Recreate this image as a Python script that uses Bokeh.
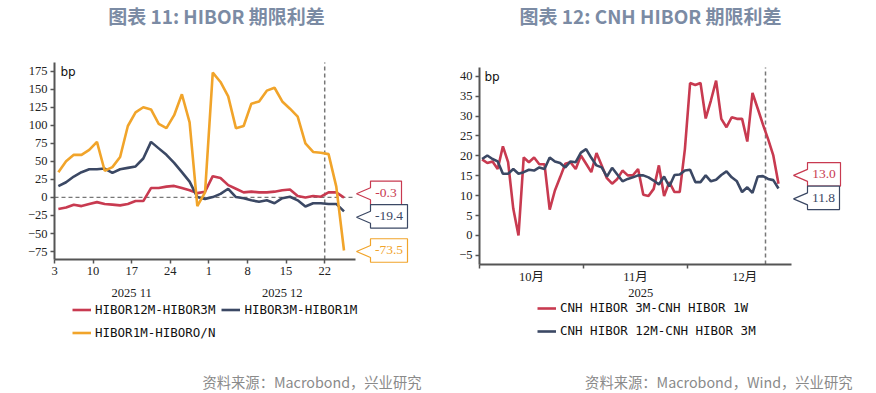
from bokeh.plotting import figure
from bokeh.models import FixedTicker, Legend, LegendItem, Range1d
from bokeh.layouts import row
from bokeh.embed import file_html
from bokeh.resources import INLINE
from bokeh.core.properties import value

# ---------------- data : left chart (HIBOR, business days 3 Nov - 24 Dec 2025)
left_title = "图表 11: HIBOR 期限利差"
left_source = "资料来源：Macrobond，兴业研究"
left_tick_labels = ["3", "10", "17", "24", "1", "8", "15", "22"]
left_month_labels = ["2025 11", "2025 12"]
hibor_12m_3m = [-16, -14, -10, -12, -9, -6.5, -9, -10, -11, -9, -5, -5, 13, 13, 15, 16,
                13, 10, 6, 8, 29.5, 27, 17, 12, 7, 8, 7, 7, 8, 10, 11, 2, 0, 2, 1, 7, 7, -0.3]
hibor_3m_1m = [15.7, 21, 29, 35, 39, 39, 40, 34, 39, 41, 43, 54, 77, 68, 59, 48, 35, 22,
               0.5, -2, 0.5, 5, 12, 0.5, -1, -4, -6, -4, -8, -1, 1, -4, -12.5, -8, -8, -9,
               -9, -19.4]
hibor_1m_on = [35, 50, 59, 59, 66, 77, 37, 42, 56, 99, 118, 125, 122, 102, 96, 114, 143,
               104, -12, 7, 173, 160, 140, 96, 99, 130, 133, 148, 152, 133, 123, 112, 75,
               63, 62, 60, 15, -73.5]
left_names = ["HIBOR12M-HIBOR3M", "HIBOR3M-HIBOR1M", "HIBOR1M-HIBORO/N"]

# ---------------- data : right chart (CNH HIBOR, business days Oct - 24 Dec 2025)
right_title = "图表 12: CNH HIBOR 期限利差"
right_source = "资料来源：Macrobond，Wind，兴业研究"
right_month_labels = ["10月", "11月", "12月"]
right_year_label = "2025"
cnh_3m_1w = [19.1, 18.2, 18.6, 16.7, 22.4, 18.4, 6.7, 0, 19.6, 18.4,
             19.6, 17.9, 17.9, 6.5, 11.3, 14.6, 18.0, 18.4, 16.7, 20.1,
             18.0, 15.9, 20.7, 17.6, 14.4, 13.0, 14.2, 16.3, 15.1, 15.1,
             16.7, 10.2, 9.9, 11.7, 17.6, 9.9, 13.4, 10.9, 10.9, 21.7,
             38.3, 37.8, 38.3, 29.4, 33.9, 38.9, 29.3, 27.2, 29.7, 29.3,
             29.3, 23.6, 35.8, 31.9, 27.9, 24.2, 20.1, 13.0]
cnh_12m_3m = [19.2, 20.1, 19.2, 18.6, 15.5, 15.5, 16.7, 15.5, 15.9, 16.5,
              16.3, 17.1, 16.7, 19.6, 18.6, 18.2, 17.1, 18.6, 18.4, 20.8,
              21.7, 19.5, 17.6, 17.1, 14.8, 17.0, 15.3, 13.6, 14.2, 14.6,
              15.1, 15.1, 14.6, 13.8, 12.8, 14.8, 12.3, 15.2, 15.3, 16.3,
              16.5, 13.4, 13.4, 15.1, 13.6, 14.0, 15.2, 16.1, 14.6, 13.6,
              10.9, 12.1, 10.7, 14.8, 14.9, 14.2, 13.9, 11.8]
right_names = ["CNH HIBOR 3M-CNH HIBOR 1W", "CNH HIBOR 12M-CNH HIBOR 3M"]

# ---------------- styles
RED = "#c83a50"
NAVY = "#3b4864"
ORANGE = "#f1a42a"
AXIS = "#555555"
DASH = "#777777"
TITLE_C = "#7b8ba4"
SRC_C = "#8a8a8a"
SERIF = "Liberation Serif, Noto Sans CJK SC"
MONO = "DejaVu Sans Mono"
CJK = "Noto Sans CJK SC"
W, H = 438, 393


class Geo:
    """pixel <-> data conversion for a figure whose frame fills the whole figure"""

    def __init__(self, fig_left, origin_x, ppx, origin_top, y_top, ppy):
        self.fig_left, self.origin_x, self.ppx = fig_left, origin_x, ppx
        self.origin_top, self.y_top, self.ppy = origin_top, y_top, ppy

    def x(self, page_x):
        return (page_x - self.origin_x) / self.ppx

    def y(self, page_y):
        return self.y_top - (page_y - self.origin_top) / self.ppy

    def page_y(self, v):
        return self.origin_top + (self.y_top - v) * self.ppy

    def x_range(self):
        return Range1d(self.x(self.fig_left), self.x(self.fig_left + W))

    def y_range(self):
        return Range1d(self.y(H), self.y(0))


def base_fig(g, x0, y0, y1):
    p = figure(width=W, height=H, x_range=g.x_range(), y_range=g.y_range(),
               output_backend="svg", toolbar_location=None,
               min_border_left=0, min_border_right=0,
               min_border_top=0, min_border_bottom=0)
    p.outline_line_color = None
    p.grid.visible = False
    for ax in p.xaxis + p.yaxis:
        ax.axis_line_color = AXIS
        ax.axis_line_width = 2
        ax.major_tick_line_color = AXIS
        ax.major_tick_line_width = 1.5
        ax.major_tick_out = 4
        ax.major_tick_in = 0
        ax.minor_tick_line_color = None
        ax.major_label_text_font = SERIF
        ax.major_label_text_font_size = "12.5px"
        ax.major_label_text_color = "#222222"
    p.yaxis.major_label_standoff = 3
    p.yaxis.fixed_location = x0
    p.yaxis.bounds = (y0, y1)
    p.xaxis.fixed_location = y0
    return p


def txt(p, x, y, s, font, size, color, align="center", baseline="middle", style="normal"):
    p.text(x=[x], y=[y], text=[s], text_align=align, text_baseline=baseline,
           text_font=value(font), text_font_size=size, text_color=color,
           text_font_style=style)


def declutter(pys, gap):
    order = sorted(range(len(pys)), key=lambda k: pys[k])
    pos = [pys[k] for k in order]
    for _ in range(50):
        moved = False
        for a in range(len(pos) - 1):
            d = pos[a + 1] - pos[a]
            if d < gap:
                s = (gap - d) / 2
                pos[a] -= s
                pos[a + 1] += s
                moved = True
        if not moved:
            break
    out = [0] * len(pys)
    for k, o in enumerate(order):
        out[o] = pos[k]
    return out


def callouts(p, g, tip_px, vals, colors, widths, box_h=23.5):
    centres = declutter([g.page_y(v) for v in vals], box_h)
    for cy, v, c, w in zip(centres, vals, colors, widths):
        bl, br = tip_px + 14, tip_px + 14 + w
        top, bot = cy - box_h / 2, cy + box_h / 2
        xs = [bl, br, br, bl, bl, tip_px, bl]
        ys = [top, top, bot, bot, cy + 7, cy + 1, cy - 5]
        p.patch([g.x(a) for a in xs], [g.y(b) for b in ys], fill_color="white",
                line_color=c, line_width=1.2)
        txt(p, g.x((bl + br) / 2), g.y(cy), "%.1f" % v, "Liberation Serif", "13.5px", c)


def legend(p, names, rends, loc, spacing, item_h, ncols=None):
    lg = Legend(items=[LegendItem(label=n, renderers=[r]) for n, r in zip(names, rends)],
                location=loc)
    if ncols:
        lg.orientation = "horizontal"
        lg.ncols = ncols
    lg.background_fill_alpha = 0
    lg.border_line_color = None
    lg.padding = 0
    lg.margin = 0
    lg.label_text_font = MONO
    lg.label_text_font_size = "12.5px"
    lg.label_text_color = "#111111"
    lg.glyph_width = 19
    lg.glyph_height = item_h
    lg.label_height = item_h
    lg.label_standoff = 4
    lg.spacing = spacing
    p.add_layout(lg)


# ====================== LEFT CHART ======================
y_bot1, y_top1 = -86, 187
g1 = Geo(fig_left=0, origin_x=54, ppx=7.72, origin_top=62, y_top=y_top1,
         ppy=197 / float(y_top1 - y_bot1))
p1 = base_fig(g1, 0, y_bot1, y_top1)
left_end = 39
xl = [i + 0.5 for i in range(len(hibor_1m_on))]

p1.xaxis.ticker = FixedTicker(ticks=[5.0 * k for k in range(len(left_tick_labels))])
p1.xaxis.major_label_overrides = {5.0 * k: s for k, s in enumerate(left_tick_labels)}
p1.xaxis.bounds = (0, left_end)
p1.xaxis.major_label_standoff = 3
p1.yaxis.ticker = FixedTicker(ticks=list(range(-75, 176, 25)))

for xm, s in zip([10.0, 29.5], left_month_labels):
    txt(p1, xm, g1.y(292), s, "Liberation Serif", "12.5px", "#222222")

p1.segment(x0=[0], x1=[left_end], y0=[0], y1=[0], line_color=DASH,
           line_dash="4 3", line_width=1.2)
p1.segment(x0=[35], x1=[35], y0=[y_bot1], y1=[y_top1], line_color=DASH,
           line_dash="4 3", line_width=1.5)

r_red = p1.line(xl, hibor_12m_3m, line_color=RED, line_width=2.6)
r_navy = p1.line(xl, hibor_3m_1m, line_color=NAVY, line_width=2.6)
r_or = p1.line(xl, hibor_1m_on, line_color=ORANGE, line_width=2.6)

txt(p1, g1.x(60), g1.y(71), "bp", "DejaVu Sans", "12px", "#111111", align="left")
callouts(p1, g1, 356, [hibor_12m_3m[-1], hibor_3m_1m[-1], hibor_1m_on[-1]],
         [RED, NAVY, ORANGE], [31, 37, 37])

txt(p1, g1.x(216), g1.y(15), left_title, CJK, "19px", TITLE_C, style="bold")
txt(p1, g1.x(421), g1.y(381), left_source, CJK, "14.3px", SRC_C, align="right")
legend(p1, left_names, [r_red, r_navy, r_or], (72, H - 340.5), 6, 17, ncols=2)

# ====================== RIGHT CHART ======================
y_bot2, y_top2 = -7.3, 42.2
g2 = Geo(fig_left=438, origin_x=479, ppx=5.2, origin_top=67, y_top=y_top2,
         ppy=197 / (y_top2 - y_bot2))
p2 = base_fig(g2, 0, y_bot2, y_top2)
right_end = 60
xr = [i + 0.5 for i in range(len(cnh_3m_1w))]

p2.xaxis.ticker = FixedTicker(ticks=[10.0, 30.0, 51.0], minor_ticks=[0.0, 20.0, 40.0])
p2.xaxis.major_label_overrides = {10.0: right_month_labels[0], 30.0: right_month_labels[1],
                                  51.0: right_month_labels[2]}
p2.xaxis.bounds = (0, right_end)
p2.xaxis.major_tick_line_color = None
p2.xaxis.minor_tick_line_color = AXIS
p2.xaxis.minor_tick_line_width = 1.5
p2.xaxis.minor_tick_out = 4
p2.xaxis.minor_tick_in = 0
p2.xaxis.major_label_standoff = 1
p2.yaxis.ticker = FixedTicker(ticks=list(range(-5, 41, 5)))

txt(p2, 31.0, g2.y(292), right_year_label, "Liberation Serif", "12.5px", "#222222")

p2.segment(x0=[55], x1=[55], y0=[y_bot2], y1=[y_top2], line_color=DASH,
           line_dash="4 3", line_width=1.5)

r2_red = p2.line(xr, cnh_3m_1w, line_color=RED, line_width=2.6)
r2_navy = p2.line(xr, cnh_12m_3m, line_color=NAVY, line_width=2.6)

txt(p2, g2.x(484), g2.y(76), "bp", "DejaVu Sans", "12px", "#111111", align="left")
callouts(p2, g2, 793, [cnh_3m_1w[-1], cnh_12m_3m[-1]], [RED, NAVY], [33, 32])

txt(p2, g2.x(650), g2.y(15), right_title, CJK, "19px", TITLE_C, style="bold")
txt(p2, g2.x(852), g2.y(381), right_source, CJK, "14.3px", SRC_C, align="right")
legend(p2, right_names, [r2_red, r2_navy], (537 - 438, H - 338), 8, 14)

layout = row(p1, p2)
html = file_html(layout, INLINE, "HIBOR")
with open("out.html", "w") as f:
    f.write(html)
